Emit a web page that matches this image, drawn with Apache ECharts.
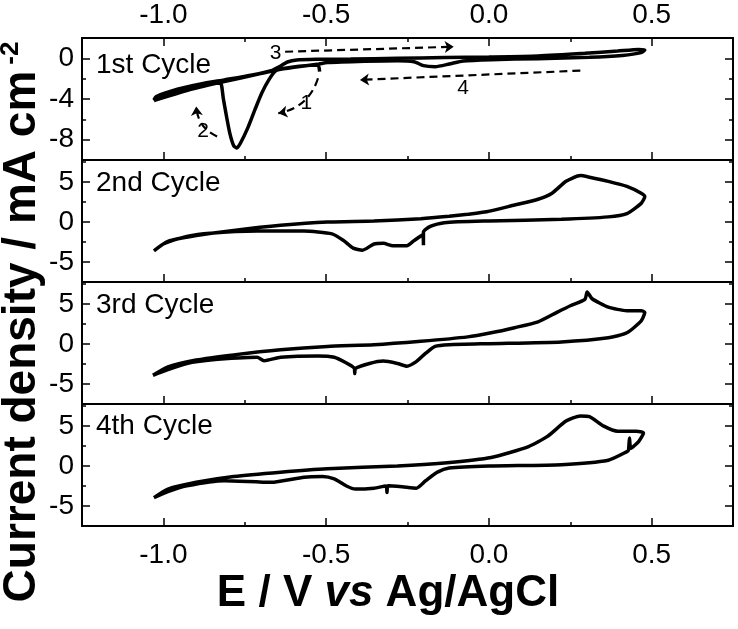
<!DOCTYPE html>
<html><head><meta charset="utf-8">
<script src="https://cdn.jsdelivr.net/npm/echarts@6/dist/echarts.min.js"></script>
<style>html,body{margin:0;padding:0;background:#fff}#c{width:738px;height:629px}</style>
</head><body><div id="c"></div>
<script>
// ---- data ----
const xMajorTicks = [-1.0, -0.5, 0.0, 0.5];
const xMinorTicks = [-1.25, -0.75, -0.25, 0.25, 0.75];
const panelLabels = ['1st Cycle', '2nd Cycle', '3rd Cycle', '4th Cycle'];
const panelYRange = [[-10, 2], [-7.5, 7.75], [-7.5, 7.75], [-7.5, 7.75]];
const panelYMajor = [[-8, -4, 0], [-5, 0, 5], [-5, 0, 5], [-5, 0, 5]];
const panelYMinor = [[-10, -6, -2, 2], [-7.5, -2.5, 2.5, 7.5], [-7.5, -2.5, 2.5, 7.5], [-7.5, -2.5, 2.5, 7.5]];

const cycle1 = [
 [-0.520,-1.30],[-0.525,-0.65],[-0.583,-0.78],[-0.626,-0.98],[-0.655,-1.24],[-0.676,-2.12],[-0.698,-3.43],[-0.719,-5.07],
 [-0.741,-6.86],[-0.763,-8.33],[-0.774,-8.82],[-0.784,-8.59],[-0.796,-7.35],[-0.806,-5.72],[-0.816,-3.92],
 [-0.824,-2.45],[-0.842,-2.45],[-0.885,-2.71],[-0.928,-3.10],[-0.978,-3.59],[-1.029,-4.08],
 [-1.022,-3.76],[-0.957,-3.04],[-0.885,-2.52],[-0.813,-2.12],[-0.727,-1.63],[-0.669,-1.21],[-0.640,-0.75],
 [-0.619,-0.36],[-0.590,-0.16],[-0.525,-0.10],[-0.424,-0.07],[-0.281,0.0],[-0.137,0.07],[0.0,0.13],
 [0.151,0.23],[0.295,0.49],[0.396,0.72],[0.460,0.88],[0.479,0.82],
 [0.468,0.56],[0.410,0.29],[0.309,0.10],[0.151,-0.03],[0.007,-0.13],[-0.079,-0.26],[-0.122,-0.56],
 [-0.165,-0.82],[-0.201,-0.72],[-0.230,-0.33],[-0.281,-0.23],[-0.381,-0.29],[-0.496,-0.42],[-0.522,-0.56],
 [-0.568,-0.75],[-0.640,-1.08],[-0.698,-1.47],[-0.827,-2.39],[-0.928,-3.17],[-1.029,-4.15]
];
const cycle2 = [
 [-1.029,-3.6],[-0.986,-2.42],[-0.899,-1.69],[-0.784,-1.06],[-0.640,-0.42],[-0.496,0.0],[-0.353,0.13],
 [-0.209,0.42],[-0.122,0.72],[-0.065,0.97],[-0.007,1.27],[0.079,2.12],[0.151,2.84],[0.194,3.6],
 [0.237,5.08],[0.281,5.8],[0.309,5.6],[0.367,5.08],[0.424,4.45],[0.468,3.6],[0.479,3.18],
 [0.468,2.33],[0.424,1.06],[0.367,0.64],[0.223,0.34],[0.0,0.13],[-0.137,-0.08],[-0.180,-0.55],
 [-0.201,-1.27],[-0.201,-2.9],[-0.203,-1.6],[-0.230,-2.33],[-0.252,-2.97],[-0.295,-2.97],[-0.324,-2.67],
 [-0.353,-2.75],[-0.388,-3.52],[-0.417,-3.26],[-0.446,-2.33],[-0.482,-1.48],[-0.568,-1.14],[-0.712,-1.14],
 [-0.856,-1.40],[-0.928,-1.82],[-1.0,-2.75],[-1.029,-3.6]
];
const cycle3 = [
 [-1.032,-3.91],[-0.986,-2.85],[-0.899,-2.0],[-0.784,-1.36],[-0.640,-0.72],[-0.496,-0.30],[-0.353,-0.09],
 [-0.209,0.34],[-0.065,0.89],[0.007,1.4],[0.079,2.04],[0.151,2.77],[0.209,3.96],[0.252,4.81],[0.295,5.57],
 [0.302,6.5],[0.317,5.66],[0.367,4.6],[0.424,4.17],[0.468,4.17],[0.479,3.96],
 [0.468,2.89],[0.424,1.4],[0.367,0.77],[0.223,0.26],[0.0,0.04],[-0.122,-0.09],[-0.165,-0.3],[-0.194,-1.15],
 [-0.223,-2.21],[-0.252,-2.77],[-0.281,-2.43],[-0.324,-2.13],[-0.367,-2.43],[-0.410,-3.06],[-0.412,-3.7],
 [-0.414,-3.0],[-0.439,-2.34],[-0.475,-1.66],[-0.525,-1.49],[-0.640,-1.66],[-0.691,-2.09],[-0.712,-1.66],
 [-0.856,-2.0],[-0.928,-2.43],[-0.986,-3.19],[-1.032,-3.91]
];
const cycle4 = [
 [-1.029,-3.96],[-0.986,-2.89],[-0.899,-2.04],[-0.784,-1.32],[-0.640,-0.77],[-0.496,-0.34],[-0.281,0.0],
 [-0.137,0.38],[0.007,1.06],[0.122,2.43],[0.180,3.7],[0.237,5.62],[0.281,6.26],[0.309,6.17],[0.353,4.98],
 [0.396,4.34],[0.453,4.34],[0.475,4.13],
 [0.460,3.06],[0.436,2.2],[0.432,3.5],[0.429,2.0],[0.424,1.79],[0.367,0.72],[0.223,0.17],[0.0,0.0],[-0.122,-0.26],[-0.158,-0.77],[-0.194,-1.83],
 [-0.223,-2.77],[-0.266,-2.6],[-0.310,-2.47],[-0.313,-3.3],[-0.316,-2.5],[-0.353,-2.77],[-0.410,-2.89],[-0.439,-2.47],[-0.475,-1.62],
 [-0.511,-1.32],[-0.568,-1.4],[-0.669,-2.04],[-0.813,-1.83],[-0.928,-2.47],[-0.986,-3.19],[-1.029,-3.96]
];
const cycles = [cycle1, cycle2, cycle3, cycle4];

// dashed scan-direction arrows in the 1st cycle panel: [from, to, curveness]
const arrowPaths = [
 [[-0.525, -1.96], [-0.647, -5.4], 0.3],
 [[-0.835, -7.68], [-0.899, -4.74], 0.3],
 [[-0.626, 0.65], [-0.108, 1.14], 0],
 [[0.281, -1.21], [-0.396, -2.12], 0]
];
const arrowLabels = [[-0.561, -4.41, '1'], [-0.878, -7.19, '2'], [-0.655, 0.49, '3'], [-0.079, -2.94, '4']];

// ---- layout ----
const L = 82, W = 651, T0 = 38, H = 122;
const FONT = 'Liberation Sans';
const chart = echarts.init(document.getElementById('c'), null, {renderer: 'canvas'});

const grids = [], xAxes = [], yAxes = [], series = [];
const fmtX = v => v.toFixed(1);
function tickAx(base, ticks, len, withLabels, extra) {
  return {
    type: 'value', min: base.min, max: base.max, position: base.position, gridIndex: base.gridIndex,
    axisLine: {show: false, onZero: false}, splitLine: {show: false},
    axisTick: {show: true, inside: true, length: len, customValues: ticks, lineStyle: {color: '#000', width: 1.5}},
    axisLabel: withLabels ? Object.assign({show: true, customValues: ticks, color: '#000', fontFamily: FONT, fontSize: 28}, extra || {}) : {show: false}
  };
}
for (let i = 0; i < 4; i++) {
  grids.push({left: L, top: T0 + i * H, width: W, height: H, show: true, borderColor: '#000', borderWidth: 2, backgroundColor: 'transparent'});
  const xb = {min: -1.25, max: 0.75, gridIndex: i, position: 'bottom'};
  const xMainIdx = xAxes.length;
  xAxes.push(tickAx(xb, xMajorTicks, 8, i === 3, {formatter: fmtX, margin: 15}));
  xAxes.push(tickAx(xb, xMinorTicks, 4, false));
  if (i === 0) {
    const xt = {min: -1.25, max: 0.75, gridIndex: 0, position: 'top'};
    xAxes.push(tickAx(xt, xMajorTicks, 8, true, {formatter: fmtX, margin: 9}));
    xAxes.push(tickAx(xt, xMinorTicks, 4, false));
  }
  const yl = {min: panelYRange[i][0], max: panelYRange[i][1], gridIndex: i, position: 'left'};
  const yr = Object.assign({}, yl, {position: 'right'});
  const yMainIdx = yAxes.length;
  yAxes.push(tickAx(yl, panelYMajor[i], 8, true, {margin: 8}));
  yAxes.push(tickAx(yl, panelYMinor[i], 4, false));
  yAxes.push(tickAx(yr, panelYMajor[i], 8, false));
  yAxes.push(tickAx(yr, panelYMinor[i], 4, false));

  series.push({
    type: 'line', xAxisIndex: xMainIdx, yAxisIndex: yMainIdx, data: cycles[i],
    showSymbol: false, symbol: 'none', lineStyle: {color: '#000', width: 3.5}, smooth: 0.2,
    animation: false, silent: true
  });
  if (i === 0) {
    series.push({
      type: 'lines', coordinateSystem: 'cartesian2d', xAxisIndex: xMainIdx, yAxisIndex: yMainIdx,
      data: arrowPaths.map(a => ({coords: [a[0], a[1]], lineStyle: {curveness: a[2]}})),
      lineStyle: {color: '#000', width: 2.2, type: [8, 5], opacity: 1},
      symbol: ['none', 'arrow'], symbolSize: 9, animation: false, silent: true
    });
    series.push({
      type: 'scatter', xAxisIndex: xMainIdx, yAxisIndex: yMainIdx, data: arrowLabels,
      symbolSize: 1, itemStyle: {color: '#fff', opacity: 1}, animation: false, silent: true,
      label: {show: true, position: 'inside', formatter: p => p.value[2], color: '#000', opacity: 1,
        fontFamily: FONT, fontSize: 21}
    });
  }
}

const graphic = [];
const labelCenters = [65, 183, 305, 426];
panelLabels.forEach((t, i) => {
  graphic.push({type: 'text', x: 96, y: labelCenters[i],
    style: {text: t, fill: '#000', font: '28px "' + FONT + '"', verticalAlign: 'middle'}});
});
graphic.push({
  type: 'text', x: 388, y: 594,
  style: {
    text: 'E / V {i|vs} Ag/AgCl', align: 'center', verticalAlign: 'middle', fill: '#000',
    font: 'bold 44px "' + FONT + '"',
    rich: {i: {fontFamily: FONT, fontSize: 44, fontWeight: 'bold', fontStyle: 'italic', fill: '#000'}}
  }
});
graphic.push({
  type: 'text', x: 22, y: 322, rotation: Math.PI / 2,
  style: {
    text: 'Current density / mA cm{s|-2}', align: 'center', verticalAlign: 'middle', fill: '#000',
    font: 'bold 46px "' + FONT + '"',
    rich: {s: {fontFamily: FONT, fontSize: 26, fontWeight: 'bold', fill: '#000', verticalAlign: 'top', padding: [0, 0, 22, 6]}}
  }
});

chart.setOption({
  animation: false, backgroundColor: '#fff',
  grid: grids, xAxis: xAxes, yAxis: yAxes, series: series, graphic: graphic
});
</script></body></html>
